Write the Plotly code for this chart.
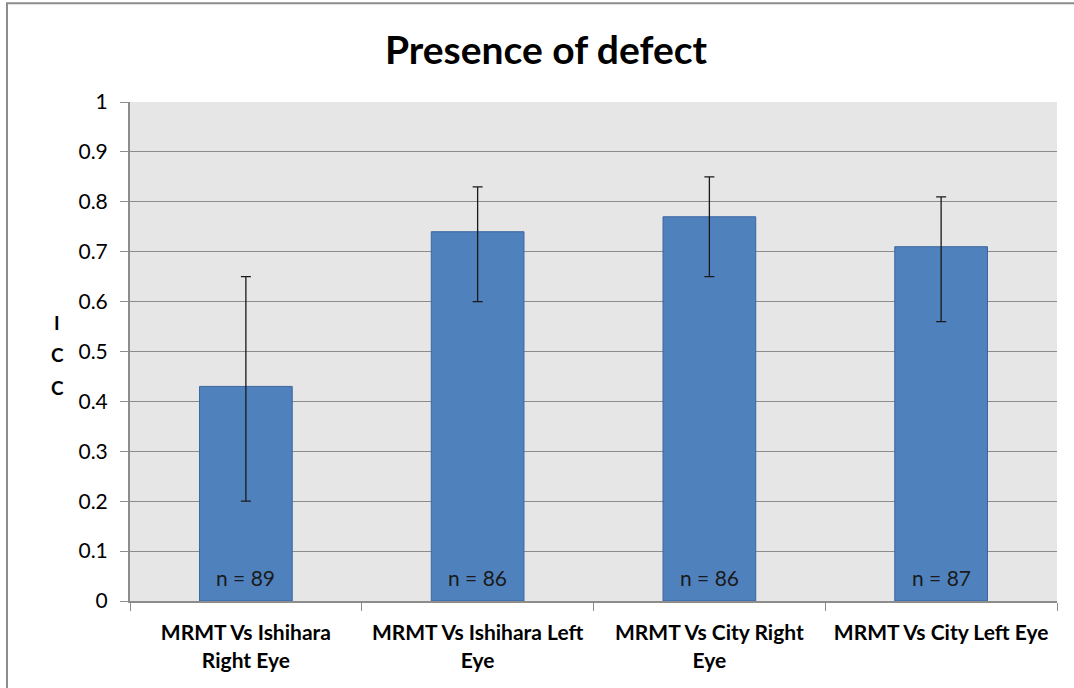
import plotly.graph_objects as go

categories = ["MRMT Vs Ishihara<br>Right Eye", "MRMT Vs Ishihara Left<br>Eye",
              "MRMT Vs City Right<br>Eye", "MRMT Vs City Left Eye"]
icc = [0.43, 0.74, 0.77, 0.71]
upper = [0.65, 0.83, 0.85, 0.81]
lower = [0.20, 0.60, 0.65, 0.56]
n_labels = ["n = 89", "n = 86", "n = 86", "n = 87"]
axis_title_letters = ["I", "C", "C"]

err_plus = [u - v for u, v in zip(upper, icc)]
err_minus = [v - l for v, l in zip(icc, lower)]

FONT = "Lato, Calibri, Arial, sans-serif"

fig = go.Figure()
fig.add_trace(go.Bar(
    x=categories, y=icc, width=0.4,
    marker=dict(color="#4F81BD", line=dict(color="#3A67A0", width=1)),
    error_y=dict(type="data", symmetric=False, array=err_plus, arrayminus=err_minus,
                 color="#1a1a1a", thickness=1.3, width=5),
    showlegend=False,
))

for c, t in zip(categories, n_labels):
    fig.add_annotation(x=c, y=0.048, text=t, showarrow=False, xref="x", yref="y",
                       font=dict(family=FONT, size=21, color="#1a1a1a"))

for i, letter in enumerate(axis_title_letters):
    fig.add_annotation(x=-0.0787, y=0.559 - i * 0.066, xref="paper", yref="paper",
                       text="<b>" + letter + "</b>", showarrow=False,
                       font=dict(family=FONT, size=19, color="black"),
                       xanchor="center", yanchor="middle")

fig.add_shape(type="rect", xref="paper", yref="paper", x0=-0.1327, x1=1.06, y0=-0.3, y1=1.198,
              line=dict(color="#8C8C8C", width=2), fillcolor="rgba(0,0,0,0)", layer="below")

fig.update_layout(
    width=1074, height=688,
    margin=dict(l=130, r=17, t=102, b=87),
    paper_bgcolor="white", plot_bgcolor="#E6E6E6",
    title=dict(text="<b>Presence of defect</b>", x=546/1074, xanchor="center",
               y=1 - 50/688, yanchor="middle", font=dict(family=FONT, size=39, color="black")),
    font=dict(family=FONT, size=21, color="black"),
    bargap=0.6,
)
fig.update_yaxes(range=[0, 1], dtick=0.1, tickformat="~g", showgrid=True, gridcolor="#8C8C8C",
                 gridwidth=1, ticks="outside", ticklen=8, tickcolor="#8C8C8C",
                 showline=True, linecolor="#8C8C8C", linewidth=2, zeroline=False,
                 automargin=False, ticklabelstandoff=8,
                 tickfont=dict(family=FONT, size=21, color="black"))
fig.update_xaxes(showline=True, linecolor="#8C8C8C", linewidth=2, ticks="outside",
                 tickson="boundaries", ticklen=8, tickcolor="#8C8C8C", automargin=False,
                 ticklabelstandoff=12,
                 tickfont=dict(family=FONT, size=21, color="black"))
fig.update_xaxes(tickvals=categories, ticktext=["<b>" + c + "</b>" for c in categories])

fig.write_html("out.html", config={"displayModeBar": False},
               post_script="document.body.style.margin='0';document.body.style.overflow='hidden';")
